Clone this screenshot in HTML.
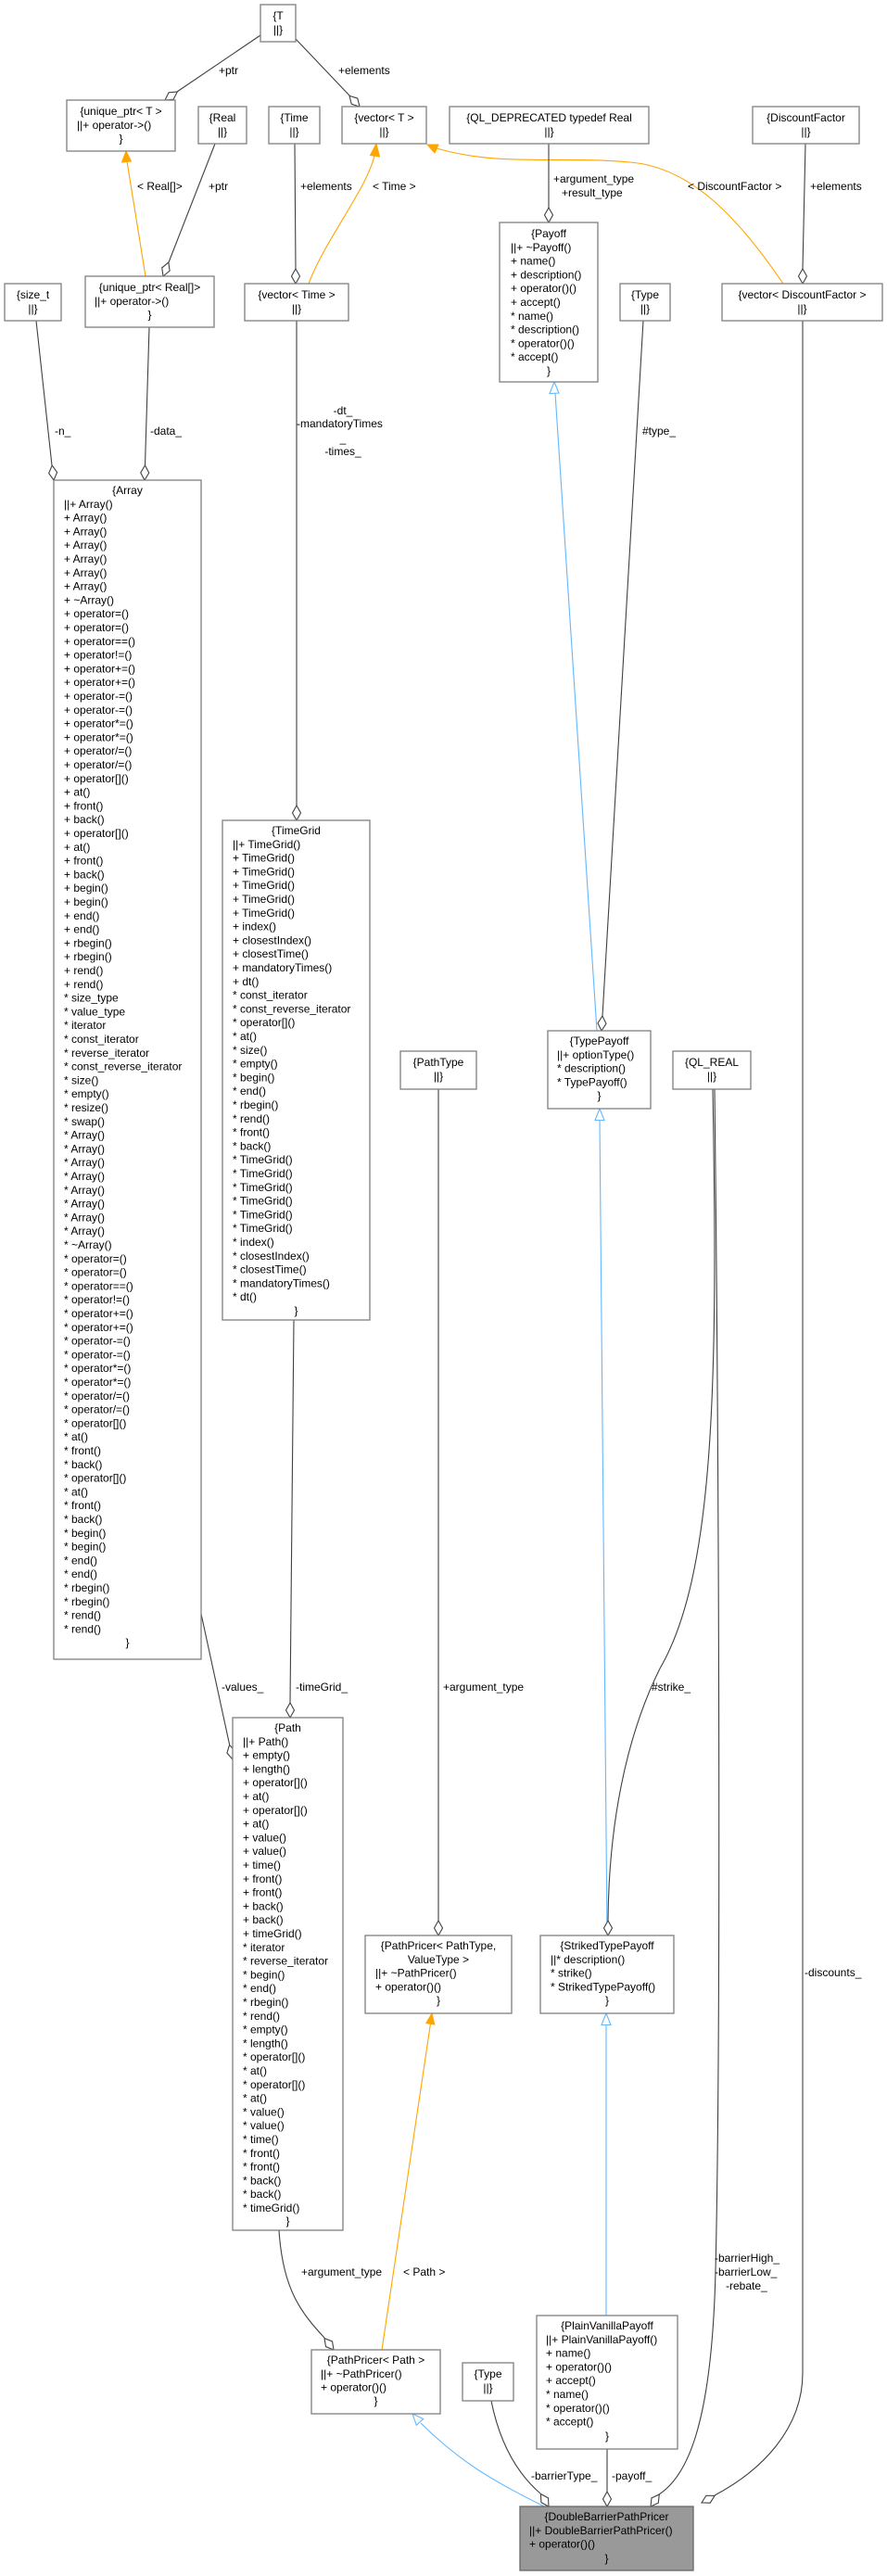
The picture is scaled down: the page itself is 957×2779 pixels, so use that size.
<!DOCTYPE html>
<html><head><meta charset="utf-8"><style>
html,body{margin:0;padding:0;background:#fff;}
svg{display:block;}
text{font-family:"Liberation Sans",Arial,sans-serif;font-size:12px;fill:#000;}
.b{fill:#fff;stroke:#7f7f7f;stroke-width:1.3;}
.e{fill:none;stroke:#404040;stroke-width:1.1;}
.o{fill:none;stroke:#FFA500;stroke-width:1.1;}
.u{fill:none;stroke:#63B8FF;stroke-width:1.1;}
.d{fill:#fff;stroke:#404040;stroke-width:1.1;}
.m{text-anchor:middle;}
</style></head><body>
<svg width="957" height="2779" viewBox="0 0 957 2779" xmlns="http://www.w3.org/2000/svg">

<!-- ===== EDGES ===== -->
<!-- T -> unique_ptr<T> -->
<line class="e" x1="281" y1="38" x2="191" y2="99"/>
<polygon class="d" points="0,0 4.5,-8 0,-16 -4.5,-8" transform="translate(178,108) rotate(55.8)"/>
<text x="236" y="80">+ptr</text>
<!-- T -> vector<T> -->
<line class="e" x1="319" y1="42" x2="377" y2="103"/>
<polygon class="d" points="0,0 4.5,-8 0,-16 -4.5,-8" transform="translate(388,115) rotate(-43.4)"/>
<text x="365" y="80">+elements</text>
<!-- Real -> unique_ptr<Real[]> -->
<line class="e" x1="232" y1="155" x2="182" y2="283"/>
<polygon class="d" points="0,0 4.5,-8 0,-16 -4.5,-8" transform="translate(176,298) rotate(21.4)"/>
<text x="225" y="205">+ptr</text>
<!-- unique_ptr<Real[]> -> unique_ptr<T> orange -->
<line class="o" x1="157" y1="298" x2="137" y2="174"/>
<polygon fill="#FFA500" stroke="#FFA500" points="136,163 131.5,175 141.5,174"/>
<text x="148" y="205">&lt; Real[]&gt;</text>
<!-- Time -> vector<Time> -->
<line class="e" x1="318" y1="155" x2="319" y2="290"/>
<polygon class="d" points="0,0 4.5,-8 0,-16 -4.5,-8" transform="translate(319,306)"/>
<text x="324" y="205">+elements</text>
<!-- vector<Time> -> vector<T> orange -->
<path class="o" d="M333,306 C350,260 395,205 404,168"/>
<polygon fill="#FFA500" stroke="#FFA500" points="406,155 399.5,167.5 409.5,169"/>
<text x="402" y="205">&lt; Time &gt;</text>
<!-- vector<DF> -> vector<T> orange -->
<path class="o" d="M845,306 C790,225 740,180 680,175 C600,168 540,180 471,160"/>
<polygon fill="#FFA500" stroke="#FFA500" points="461,156 473,156 469,165"/>
<text x="742" y="205">&lt; DiscountFactor &gt;</text>
<!-- DiscountFactor -> vector<DF> -->
<line class="e" x1="869" y1="155" x2="866" y2="290"/>
<polygon class="d" points="0,0 4.5,-8 0,-16 -4.5,-8" transform="translate(866,306)"/>
<text x="874" y="205">+elements</text>
<!-- QL_DEPRECATED -> Payoff -->
<line class="e" x1="592" y1="155" x2="592" y2="224"/>
<polygon class="d" points="0,0 4.5,-8 0,-16 -4.5,-8" transform="translate(592,240)"/>
<text x="597" y="197">+argument_type</text>
<text x="606" y="212">+result_type</text>
<!-- size_t -> Array -->
<line class="e" x1="39" y1="346" x2="56" y2="502"/>
<polygon class="d" points="0,0 4.5,-8 0,-16 -4.5,-8" transform="translate(58,518) rotate(-6.3)"/>
<text x="59" y="469">-n_</text>
<!-- unique_ptr<Real[]> -> Array -->
<line class="e" x1="161" y1="353" x2="156.5" y2="502"/>
<polygon class="d" points="0,0 4.5,-8 0,-16 -4.5,-8" transform="translate(156,518) rotate(1.7)"/>
<text x="162" y="469">-data_</text>
<!-- vector<Time> -> TimeGrid -->
<line class="e" x1="320" y1="346" x2="320" y2="869"/>
<polygon class="d" points="0,0 4.5,-8 0,-16 -4.5,-8" transform="translate(320,885)"/>
<text class="m" x="370" y="447">-dt_</text>
<text x="320" y="461">-mandatoryTimes</text>
<text class="m" x="370" y="477">_</text>
<text class="m" x="370" y="491">-times_</text>
<!-- Payoff -> TypePayoff (inheritance) -->
<line class="u" x1="644" y1="1112" x2="599" y2="424"/>
<polygon fill="#fff" stroke="#63B8FF" stroke-width="1.1" points="598,412 593,424.5 603,424"/>
<!-- Type -> TypePayoff -->
<line class="e" x1="694" y1="346" x2="650" y2="1096"/>
<polygon class="d" points="0,0 4.5,-8 0,-16 -4.5,-8" transform="translate(649,1112) rotate(3.4)"/>
<text x="693" y="469">#type_</text>
<!-- TypePayoff -> StrikedTypePayoff -->
<line class="u" x1="655" y1="2088" x2="647" y2="1208"/>
<polygon fill="#fff" stroke="#63B8FF" stroke-width="1.1" points="647,1196 642,1208.5 652,1208.5"/>
<!-- QL_REAL -> StrikedTypePayoff -->
<path class="e" d="M769,1175 C775,1500 770,1700 712,1800 C682,1860 657,1950 656,2072"/>
<polygon class="d" points="0,0 4.5,-8 0,-16 -4.5,-8" transform="translate(656,2088)"/>
<text x="703" y="1824">#strike_</text>
<!-- QL_REAL -> DoubleBarrier -->
<path class="e" d="M771,1175 C776,1600 778,2200 772,2450 C768,2620 740,2672 711,2691"/>
<polygon class="d" points="0,0 4.5,-8 0,-16 -4.5,-8" transform="translate(702,2704) rotate(35.5)"/>
<text x="771" y="2440">-barrierHigh_</text>
<text x="771" y="2455">-barrierLow_</text>
<text x="783" y="2470">-rebate_</text>
<!-- vector<DF> -> DoubleBarrier -->
<path class="e" d="M866,346 L866,2560 C866,2620 822,2665 771,2692"/>
<polygon class="d" points="0,0 4.5,-8 0,-16 -4.5,-8" transform="translate(757,2700) rotate(61.7)"/>
<text x="868" y="2132">-discounts_</text>
<!-- PathType -> PathPricer<PathType,ValueType> -->
<line class="e" x1="473" y1="1175" x2="473" y2="2072"/>
<polygon class="d" points="0,0 4.5,-8 0,-16 -4.5,-8" transform="translate(473,2088)"/>
<text x="478" y="1824">+argument_type</text>
<!-- Array -> Path -->
<line class="e" x1="217" y1="1741" x2="247.6" y2="1882"/>
<polygon class="d" points="0,0 4.5,-8 0,-16 -4.5,-8" transform="translate(251,1898) rotate(-12.2)"/>
<text x="239" y="1824">-values_</text>
<!-- TimeGrid -> Path -->
<line class="e" x1="317" y1="1424" x2="313" y2="1837"/>
<polygon class="d" points="0,0 4.5,-8 0,-16 -4.5,-8" transform="translate(313,1853)"/>
<text x="319" y="1824">-timeGrid_</text>
<!-- Path -> PathPricer<Path> -->
<path class="e" d="M301,2406 C305,2470 325,2495 350,2522"/>
<polygon class="d" points="0,0 4.5,-8 0,-16 -4.5,-8" transform="translate(360,2535) rotate(-38.7)"/>
<text x="325" y="2455">+argument_type</text>
<!-- PathPricer<Path> -> PathPricer<PathType,...> orange -->
<line class="o" x1="412" y1="2535" x2="464.5" y2="2183"/>
<polygon fill="#FFA500" stroke="#FFA500" points="466,2172 468.8,2184 459.8,2182.6"/>
<text x="435" y="2455">&lt; Path &gt;</text>
<!-- DoubleBarrier -> PathPricer<Path> inheritance -->
<path class="u" d="M587,2704 C540,2680 500,2660 454,2614"/>
<polygon fill="#fff" stroke="#63B8FF" stroke-width="1.1" points="445,2604 456.7,2609.5 449.3,2616.3"/>
<!-- Type(bottom) -> DoubleBarrier -->
<path class="e" d="M530,2590 C540,2640 560,2670 583,2690"/>
<polygon class="d" points="0,0 4.5,-8 0,-16 -4.5,-8" transform="translate(592,2704) rotate(-32.5)"/>
<text x="573" y="2675">-barrierType_</text>
<!-- PlainVanilla -> DoubleBarrier -->
<line class="e" x1="655" y1="2642" x2="655" y2="2688"/>
<polygon class="d" points="0,0 4.5,-8 0,-16 -4.5,-8" transform="translate(655,2704)"/>
<text x="660" y="2675">-payoff_</text>
<!-- StrikedTypePayoff -> PlainVanilla -->
<line class="u" x1="654" y1="2498" x2="654" y2="2184"/>
<polygon fill="#fff" stroke="#63B8FF" stroke-width="1.1" points="654,2172 649,2184.5 659,2184.5"/>

<!-- ===== BOXES ===== -->
<!-- T -->
<rect class="b" x="281" y="5" width="38" height="40"/>
<text class="m" x="300" y="21">{T</text><text class="m" x="300" y="36">||}</text>
<!-- unique_ptr<T> -->
<rect class="b" x="72" y="108" width="117" height="55"/>
<text class="m" x="130.5" y="124">{unique_ptr&lt; T &gt;</text>
<text x="83" y="138.8">||+ operator-&gt;()</text>
<text class="m" x="130.5" y="153.6">}</text>
<!-- Real -->
<rect class="b" x="214" y="115" width="52" height="40"/>
<text class="m" x="240" y="131">{Real</text><text class="m" x="240" y="146">||}</text>
<!-- Time -->
<rect class="b" x="290" y="115" width="55" height="40"/>
<text class="m" x="317.5" y="131">{Time</text><text class="m" x="317.5" y="146">||}</text>
<!-- vector<T> -->
<rect class="b" x="369" y="115" width="91" height="40"/>
<text class="m" x="414.5" y="131">{vector&lt; T &gt;</text><text class="m" x="414.5" y="146">||}</text>
<!-- QL_DEPRECATED -->
<rect class="b" x="485" y="115" width="215" height="40"/>
<text class="m" x="592.5" y="131">{QL_DEPRECATED typedef Real</text><text class="m" x="592.5" y="146">||}</text>
<!-- DiscountFactor -->
<rect class="b" x="812" y="115" width="115" height="40"/>
<text class="m" x="869.5" y="131">{DiscountFactor</text><text class="m" x="869.5" y="146">||}</text>
<!-- size_t -->
<rect class="b" x="5" y="306" width="61" height="40"/>
<text class="m" x="35.5" y="322">{size_t</text><text class="m" x="35.5" y="337">||}</text>
<!-- unique_ptr<Real[]> -->
<rect class="b" x="92" y="298" width="139" height="55"/>
<text class="m" x="161.5" y="314">{unique_ptr&lt; Real[]&gt;</text>
<text x="102" y="328.8">||+ operator-&gt;()</text>
<text class="m" x="161.5" y="343.6">}</text>
<!-- vector<Time> -->
<rect class="b" x="264" y="306" width="112" height="40"/>
<text class="m" x="320" y="322">{vector&lt; Time &gt;</text><text class="m" x="320" y="337">||}</text>
<!-- Payoff -->
<rect class="b" x="539" y="240" width="106" height="172"/>
<text class="m" x="592" y="256">{Payoff</text>
<text x="551" y="270.8">||+ ~Payoff()<tspan x="551" dy="14.8">+ name()</tspan><tspan x="551" dy="14.8">+ description()</tspan><tspan x="551" dy="14.8">+ operator()()</tspan><tspan x="551" dy="14.8">+ accept()</tspan><tspan x="551" dy="14.8">* name()</tspan><tspan x="551" dy="14.8">* description()</tspan><tspan x="551" dy="14.8">* operator()()</tspan><tspan x="551" dy="14.8">* accept()</tspan></text>
<text class="m" x="592" y="404">}</text>
<!-- Type top -->
<rect class="b" x="669" y="306" width="54" height="40"/>
<text class="m" x="696" y="322">{Type</text><text class="m" x="696" y="337">||}</text>
<!-- vector<DF> -->
<rect class="b" x="779" y="306" width="173" height="40"/>
<text class="m" x="865.5" y="322">{vector&lt; DiscountFactor &gt;</text><text class="m" x="865.5" y="337">||}</text>

<!-- Array -->
<rect class="b" x="58" y="518" width="159" height="1272"/>
<text class="m" x="137.5" y="533">{Array</text>
<text x="69" y="547.8">||+ Array()<tspan x="69" dy="14.8">+ Array()</tspan><tspan x="69" dy="14.8">+ Array()</tspan><tspan x="69" dy="14.8">+ Array()</tspan><tspan x="69" dy="14.8">+ Array()</tspan><tspan x="69" dy="14.8">+ Array()</tspan><tspan x="69" dy="14.8">+ Array()</tspan><tspan x="69" dy="14.8">+ ~Array()</tspan><tspan x="69" dy="14.8">+ operator=()</tspan><tspan x="69" dy="14.8">+ operator=()</tspan><tspan x="69" dy="14.8">+ operator==()</tspan><tspan x="69" dy="14.8">+ operator!=()</tspan><tspan x="69" dy="14.8">+ operator+=()</tspan><tspan x="69" dy="14.8">+ operator+=()</tspan><tspan x="69" dy="14.8">+ operator-=()</tspan><tspan x="69" dy="14.8">+ operator-=()</tspan><tspan x="69" dy="14.8">+ operator*=()</tspan><tspan x="69" dy="14.8">+ operator*=()</tspan><tspan x="69" dy="14.8">+ operator/=()</tspan><tspan x="69" dy="14.8">+ operator/=()</tspan><tspan x="69" dy="14.8">+ operator[]()</tspan><tspan x="69" dy="14.8">+ at()</tspan><tspan x="69" dy="14.8">+ front()</tspan><tspan x="69" dy="14.8">+ back()</tspan><tspan x="69" dy="14.8">+ operator[]()</tspan><tspan x="69" dy="14.8">+ at()</tspan><tspan x="69" dy="14.8">+ front()</tspan><tspan x="69" dy="14.8">+ back()</tspan><tspan x="69" dy="14.8">+ begin()</tspan><tspan x="69" dy="14.8">+ begin()</tspan><tspan x="69" dy="14.8">+ end()</tspan><tspan x="69" dy="14.8">+ end()</tspan><tspan x="69" dy="14.8">+ rbegin()</tspan><tspan x="69" dy="14.8">+ rbegin()</tspan><tspan x="69" dy="14.8">+ rend()</tspan><tspan x="69" dy="14.8">+ rend()</tspan><tspan x="69" dy="14.8">* size_type</tspan><tspan x="69" dy="14.8">* value_type</tspan><tspan x="69" dy="14.8">* iterator</tspan><tspan x="69" dy="14.8">* const_iterator</tspan><tspan x="69" dy="14.8">* reverse_iterator</tspan><tspan x="69" dy="14.8">* const_reverse_iterator</tspan><tspan x="69" dy="14.8">* size()</tspan><tspan x="69" dy="14.8">* empty()</tspan><tspan x="69" dy="14.8">* resize()</tspan><tspan x="69" dy="14.8">* swap()</tspan><tspan x="69" dy="14.8">* Array()</tspan><tspan x="69" dy="14.8">* Array()</tspan><tspan x="69" dy="14.8">* Array()</tspan><tspan x="69" dy="14.8">* Array()</tspan><tspan x="69" dy="14.8">* Array()</tspan><tspan x="69" dy="14.8">* Array()</tspan><tspan x="69" dy="14.8">* Array()</tspan><tspan x="69" dy="14.8">* Array()</tspan><tspan x="69" dy="14.8">* ~Array()</tspan><tspan x="69" dy="14.8">* operator=()</tspan><tspan x="69" dy="14.8">* operator=()</tspan><tspan x="69" dy="14.8">* operator==()</tspan><tspan x="69" dy="14.8">* operator!=()</tspan><tspan x="69" dy="14.8">* operator+=()</tspan><tspan x="69" dy="14.8">* operator+=()</tspan><tspan x="69" dy="14.8">* operator-=()</tspan><tspan x="69" dy="14.8">* operator-=()</tspan><tspan x="69" dy="14.8">* operator*=()</tspan><tspan x="69" dy="14.8">* operator*=()</tspan><tspan x="69" dy="14.8">* operator/=()</tspan><tspan x="69" dy="14.8">* operator/=()</tspan><tspan x="69" dy="14.8">* operator[]()</tspan><tspan x="69" dy="14.8">* at()</tspan><tspan x="69" dy="14.8">* front()</tspan><tspan x="69" dy="14.8">* back()</tspan><tspan x="69" dy="14.8">* operator[]()</tspan><tspan x="69" dy="14.8">* at()</tspan><tspan x="69" dy="14.8">* front()</tspan><tspan x="69" dy="14.8">* back()</tspan><tspan x="69" dy="14.8">* begin()</tspan><tspan x="69" dy="14.8">* begin()</tspan><tspan x="69" dy="14.8">* end()</tspan><tspan x="69" dy="14.8">* end()</tspan><tspan x="69" dy="14.8">* rbegin()</tspan><tspan x="69" dy="14.8">* rbegin()</tspan><tspan x="69" dy="14.8">* rend()</tspan><tspan x="69" dy="14.8">* rend()</tspan></text>
<text class="m" x="137.5" y="1776">}</text>

<!-- TimeGrid -->
<rect class="b" x="240" y="885" width="159" height="539"/>
<text class="m" x="319.5" y="900">{TimeGrid</text>
<text x="251" y="914.8">||+ TimeGrid()<tspan x="251" dy="14.8">+ TimeGrid()</tspan><tspan x="251" dy="14.8">+ TimeGrid()</tspan><tspan x="251" dy="14.8">+ TimeGrid()</tspan><tspan x="251" dy="14.8">+ TimeGrid()</tspan><tspan x="251" dy="14.8">+ TimeGrid()</tspan><tspan x="251" dy="14.8">+ index()</tspan><tspan x="251" dy="14.8">+ closestIndex()</tspan><tspan x="251" dy="14.8">+ closestTime()</tspan><tspan x="251" dy="14.8">+ mandatoryTimes()</tspan><tspan x="251" dy="14.8">+ dt()</tspan><tspan x="251" dy="14.8">* const_iterator</tspan><tspan x="251" dy="14.8">* const_reverse_iterator</tspan><tspan x="251" dy="14.8">* operator[]()</tspan><tspan x="251" dy="14.8">* at()</tspan><tspan x="251" dy="14.8">* size()</tspan><tspan x="251" dy="14.8">* empty()</tspan><tspan x="251" dy="14.8">* begin()</tspan><tspan x="251" dy="14.8">* end()</tspan><tspan x="251" dy="14.8">* rbegin()</tspan><tspan x="251" dy="14.8">* rend()</tspan><tspan x="251" dy="14.8">* front()</tspan><tspan x="251" dy="14.8">* back()</tspan><tspan x="251" dy="14.8">* TimeGrid()</tspan><tspan x="251" dy="14.8">* TimeGrid()</tspan><tspan x="251" dy="14.8">* TimeGrid()</tspan><tspan x="251" dy="14.8">* TimeGrid()</tspan><tspan x="251" dy="14.8">* TimeGrid()</tspan><tspan x="251" dy="14.8">* TimeGrid()</tspan><tspan x="251" dy="14.8">* index()</tspan><tspan x="251" dy="14.8">* closestIndex()</tspan><tspan x="251" dy="14.8">* closestTime()</tspan><tspan x="251" dy="14.8">* mandatoryTimes()</tspan><tspan x="251" dy="14.8">* dt()</tspan></text>
<text class="m" x="319.5" y="1418">}</text>

<!-- PathType -->
<rect class="b" x="432" y="1134" width="82" height="41"/>
<text class="m" x="473" y="1150">{PathType</text><text class="m" x="473" y="1165">||}</text>
<!-- TypePayoff -->
<rect class="b" x="591" y="1112" width="111" height="84"/>
<text class="m" x="646.5" y="1127">{TypePayoff</text>
<text x="601" y="1141.8">||+ optionType()<tspan x="601" dy="14.8">* description()</tspan><tspan x="601" dy="14.8">* TypePayoff()</tspan></text>
<text class="m" x="646.5" y="1186">}</text>
<!-- QL_REAL -->
<rect class="b" x="726" y="1134" width="84" height="41"/>
<text class="m" x="768" y="1150">{QL_REAL</text><text class="m" x="768" y="1165">||}</text>

<!-- Path -->
<rect class="b" x="251" y="1853" width="119" height="553"/>
<text class="m" x="310.5" y="1868">{Path</text>
<text x="262" y="1882.8">||+ Path()<tspan x="262" dy="14.8">+ empty()</tspan><tspan x="262" dy="14.8">+ length()</tspan><tspan x="262" dy="14.8">+ operator[]()</tspan><tspan x="262" dy="14.8">+ at()</tspan><tspan x="262" dy="14.8">+ operator[]()</tspan><tspan x="262" dy="14.8">+ at()</tspan><tspan x="262" dy="14.8">+ value()</tspan><tspan x="262" dy="14.8">+ value()</tspan><tspan x="262" dy="14.8">+ time()</tspan><tspan x="262" dy="14.8">+ front()</tspan><tspan x="262" dy="14.8">+ front()</tspan><tspan x="262" dy="14.8">+ back()</tspan><tspan x="262" dy="14.8">+ back()</tspan><tspan x="262" dy="14.8">+ timeGrid()</tspan><tspan x="262" dy="14.8">* iterator</tspan><tspan x="262" dy="14.8">* reverse_iterator</tspan><tspan x="262" dy="14.8">* begin()</tspan><tspan x="262" dy="14.8">* end()</tspan><tspan x="262" dy="14.8">* rbegin()</tspan><tspan x="262" dy="14.8">* rend()</tspan><tspan x="262" dy="14.8">* empty()</tspan><tspan x="262" dy="14.8">* length()</tspan><tspan x="262" dy="14.8">* operator[]()</tspan><tspan x="262" dy="14.8">* at()</tspan><tspan x="262" dy="14.8">* operator[]()</tspan><tspan x="262" dy="14.8">* at()</tspan><tspan x="262" dy="14.8">* value()</tspan><tspan x="262" dy="14.8">* value()</tspan><tspan x="262" dy="14.8">* time()</tspan><tspan x="262" dy="14.8">* front()</tspan><tspan x="262" dy="14.8">* front()</tspan><tspan x="262" dy="14.8">* back()</tspan><tspan x="262" dy="14.8">* back()</tspan><tspan x="262" dy="14.8">* timeGrid()</tspan></text>
<text class="m" x="310.5" y="2400">}</text>

<!-- PathPricer<PathType, ValueType> -->
<rect class="b" x="394" y="2088" width="158" height="84"/>
<text class="m" x="473" y="2103">{PathPricer&lt; PathType,</text>
<text class="m" x="473" y="2117.8">ValueType &gt;</text>
<text x="405" y="2132.6">||+ ~PathPricer()<tspan x="405" dy="14.8">+ operator()()</tspan></text>
<text class="m" x="473" y="2162">}</text>
<!-- StrikedTypePayoff -->
<rect class="b" x="583" y="2088" width="144" height="84"/>
<text class="m" x="655" y="2103">{StrikedTypePayoff</text>
<text x="594" y="2117.8">||* description()<tspan x="594" dy="14.8">* strike()</tspan><tspan x="594" dy="14.8">* StrikedTypePayoff()</tspan></text>
<text class="m" x="655" y="2162">}</text>

<!-- PlainVanillaPayoff -->
<rect class="b" x="579" y="2498" width="152" height="144"/>
<text class="m" x="655" y="2513">{PlainVanillaPayoff</text>
<text x="589" y="2527.8">||+ PlainVanillaPayoff()<tspan x="589" dy="14.8">+ name()</tspan><tspan x="589" dy="14.8">+ operator()()</tspan><tspan x="589" dy="14.8">+ accept()</tspan><tspan x="589" dy="14.8">* name()</tspan><tspan x="589" dy="14.8">* operator()()</tspan><tspan x="589" dy="14.8">* accept()</tspan></text>
<text class="m" x="655" y="2632">}</text>
<!-- PathPricer<Path> -->
<rect class="b" x="336" y="2535" width="139" height="69"/>
<text class="m" x="405.5" y="2550">{PathPricer&lt; Path &gt;</text>
<text x="346" y="2564.8">||+ ~PathPricer()<tspan x="346" dy="14.8">+ operator()()</tspan></text>
<text class="m" x="405.5" y="2594">}</text>
<!-- Type bottom -->
<rect class="b" x="499" y="2549" width="55" height="41"/>
<text class="m" x="526.5" y="2565">{Type</text><text class="m" x="526.5" y="2580">||}</text>
<!-- DoubleBarrierPathPricer -->
<rect x="561" y="2704" width="187" height="69" fill="#999999" stroke="#666" stroke-width="1.3"/>
<text class="m" x="654.5" y="2719">{DoubleBarrierPathPricer</text>
<text x="571" y="2733.8">||+ DoubleBarrierPathPricer()<tspan x="571" dy="14.8">+ operator()()</tspan></text>
<text class="m" x="654.5" y="2764">}</text>

</svg>
</body></html>
